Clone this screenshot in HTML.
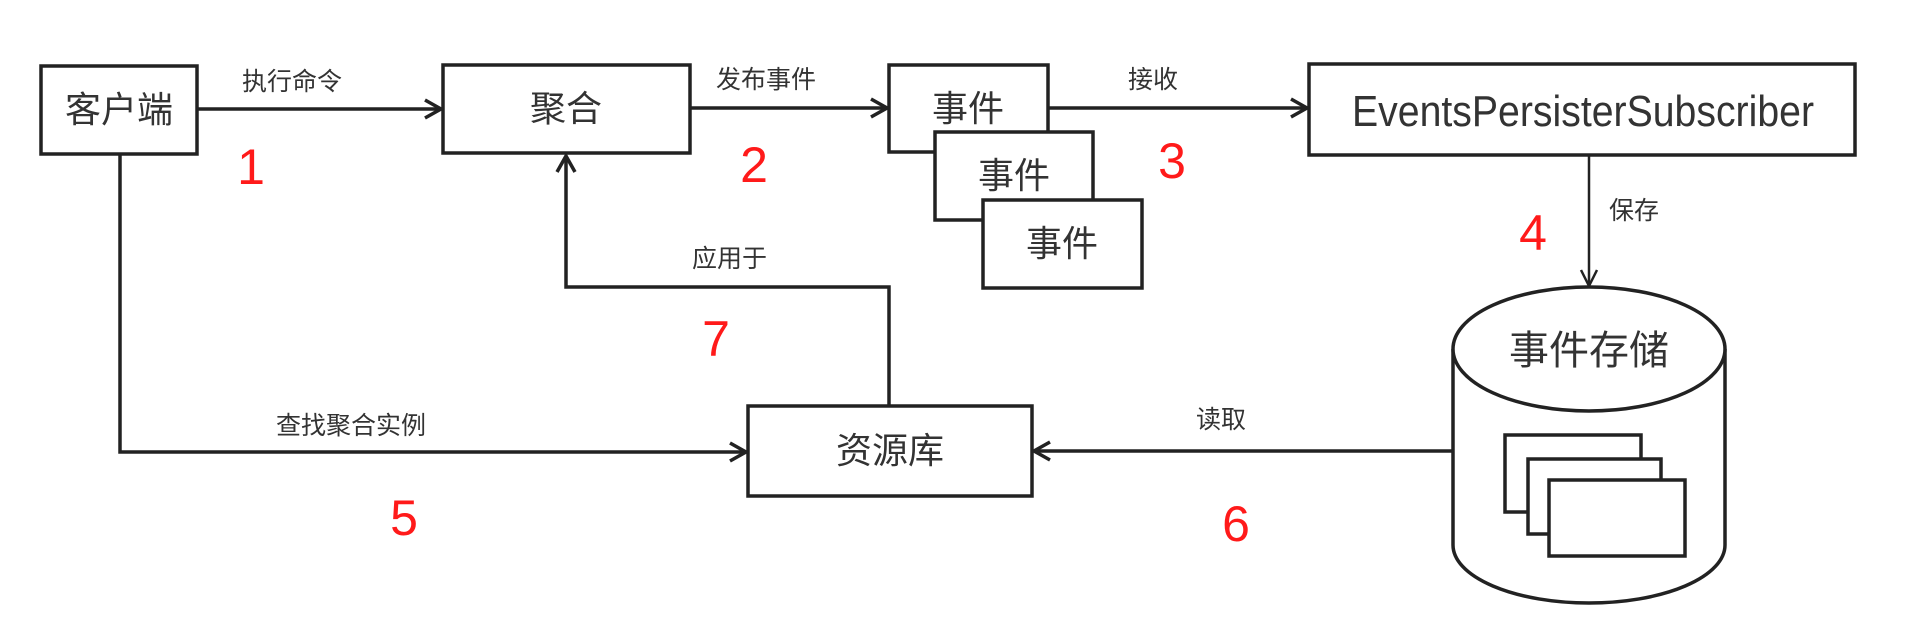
<!DOCTYPE html>
<html><head><meta charset="utf-8"><style>
html,body{margin:0;padding:0;background:#fff;}
svg{display:block;}
text{font-family:"Liberation Sans","Noto Sans CJK SC",sans-serif;fill:#333;}
.n text{fill:#ff1a1a;font-size:50px;font-family:"Liberation Sans Narrow","Liberation Sans",sans-serif;}
</style></head><body>
<svg width="1922" height="630" viewBox="0 0 1922 630" xmlns="http://www.w3.org/2000/svg">
<g fill="none" stroke="#222" stroke-width="3.5">
<rect x="41" y="66" width="156" height="88" fill="#fff"/>
<rect x="443" y="65" width="247" height="88" fill="#fff"/>
<rect x="889" y="65" width="159" height="87" fill="#fff"/>
<rect x="935" y="132" width="158" height="88" fill="#fff"/>
<rect x="983" y="200" width="159" height="88" fill="#fff"/>
<rect x="1309" y="64" width="546" height="91" fill="#fff"/>
<rect x="748" y="406" width="284" height="90" fill="#fff"/>
<line x1="197" y1="109" x2="440" y2="109"/>
<polyline points="425,100 441,109 425,118"/>
<line x1="690" y1="108" x2="886" y2="108"/>
<polyline points="871,99 887,108 871,117"/>
<line x1="1048" y1="108" x2="1306" y2="108"/>
<polyline points="1291,99 1307,108 1291,117"/>
<line x1="1589" y1="155" x2="1589" y2="286" stroke-width="2.5"/>
<polyline points="1581,270 1589,286 1597,270" stroke-width="2.5"/>
<polyline points="120,154 120,452 745,452"/>
<polyline points="730,443 746,452 730,461"/>
<polyline points="889,406 889,287 566,287 566,156"/>
<polyline points="557,172 566,156 575,172"/>
<line x1="1453" y1="451" x2="1035" y2="451"/>
<polyline points="1050,442 1034,451 1050,460"/>
<path d="M1453,349 L1453,545 A136,58 0 0 0 1725,545 L1725,349" fill="#fff"/>
<ellipse cx="1589" cy="349" rx="136" ry="62" fill="#fff"/>
<rect x="1505" y="435" width="136" height="77" fill="#fff"/>
<rect x="1528" y="459" width="133" height="75" fill="#fff"/>
<rect x="1549" y="480" width="136" height="76" fill="#fff"/>
</g>
<g font-size="36" text-anchor="middle">
<text x="119" y="122">客户端</text>
<text x="566" y="121">聚合</text>
<text x="968" y="121">事件</text>
<text x="1014" y="188">事件</text>
<text x="1062" y="256">事件</text>
<text x="890" y="463">资源库</text>
<text x="1589" y="364" font-size="40">事件存储</text>
</g>
<text x="1352" y="126" font-size="44" textLength="462" lengthAdjust="spacingAndGlyphs">EventsPersisterSubscriber</text>
<g font-size="25">
<text x="242" y="90">执行命令</text>
<text x="716" y="88">发布事件</text>
<text x="1128" y="88">接收</text>
<text x="1609" y="219">保存</text>
<text x="692" y="267">应用于</text>
<text x="276" y="434">查找聚合实例</text>
<text x="1196" y="428">读取</text>
</g>
<g class="n" text-anchor="middle">
<text x="251" y="184">1</text>
<text x="754" y="182">2</text>
<text x="1172" y="178">3</text>
<text x="1533" y="250">4</text>
<text x="404" y="535">5</text>
<text x="1236" y="541">6</text>
<text x="716" y="356">7</text>
</g>
</svg>
</body></html>
